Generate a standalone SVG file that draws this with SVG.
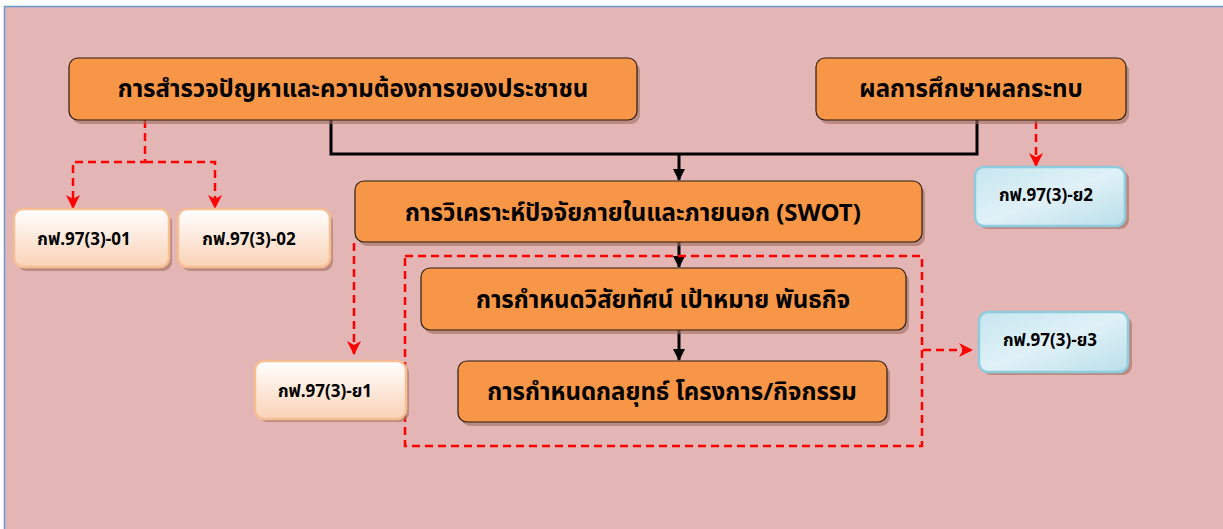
<svg xmlns="http://www.w3.org/2000/svg" width="1223" height="529" viewBox="0 0 1223 529">
<defs>
<style>
.main{fill:#F79646;stroke:#2b1d12;stroke-width:1.2}
.shadow{fill:#a07060;opacity:0.6}
.peach{fill:url(#gPeach);stroke:#F6BE92;stroke-width:2.5}
.blue{fill:url(#gBlue);stroke:#8DCBDD;stroke-width:2.5}
.t{font-family:"Noto Sans Thai","Tahoma","Noto Sans","DejaVu Sans",sans-serif;fill:#000;text-anchor:middle}
.big{font-size:24px;font-weight:bold}
.small{font-size:17px;font-weight:bold}
.blk{stroke:#000;stroke-width:3;fill:none}
.red{stroke:#FF0000;stroke-width:2.5;fill:none;stroke-dasharray:8 5}
</style>
<linearGradient id="gPeach" x1="0" y1="0" x2="0" y2="1">
<stop offset="0" stop-color="#FFFFFF"/>
<stop offset="1" stop-color="#F9D2B6"/>
</linearGradient>
<linearGradient id="gBlue" x1="0" y1="0" x2="1" y2="1">
<stop offset="0" stop-color="#C6E6F0"/>
<stop offset="0.5" stop-color="#E0F1F7"/>
<stop offset="1" stop-color="#B9DFEA"/>
</linearGradient>
<marker id="abk" viewBox="0 0 12 12" refX="11" refY="6" markerWidth="12" markerHeight="12" orient="auto" markerUnits="userSpaceOnUse">
<path d="M0,0 L12,6 L0,12 z" fill="#000"/>
</marker>
<marker id="ard" viewBox="0 0 14 14" refX="13" refY="7" markerWidth="14" markerHeight="14" orient="auto" markerUnits="userSpaceOnUse">
<path d="M0,0 L14,7 L0,14 L4,7 z" fill="#FF0000"/>
</marker>
</defs>
<rect x="0" y="0" width="1223" height="529" fill="#FFFFFF"/>
<rect x="4.5" y="6.5" width="1230" height="540" fill="#E3B5B5" stroke="#6B9AD0" stroke-width="1.5"/>

<g id="connectors">
<polyline class="blk" points="331,120 331,154 977,154 977,120"/>
<line class="blk" x1="679" y1="154" x2="679" y2="180" marker-end="url(#abk)"/>
<line class="blk" stroke-width="2" x1="679" y1="242" x2="679" y2="267" marker-end="url(#abk)"/>
<line class="blk" stroke-width="2" x1="679" y1="330" x2="679" y2="360" marker-end="url(#abk)"/>
<polyline class="red" points="145,120 145,162 73,162 73,208" marker-end="url(#ard)"/>
<polyline class="red" points="145,162 215,162 215,208" marker-end="url(#ard)"/>
<line class="red" x1="1036" y1="121" x2="1036" y2="166" marker-end="url(#ard)"/>
<line class="red" x1="354" y1="243" x2="354" y2="354" marker-end="url(#ard)"/>
<line class="red" x1="923" y1="350" x2="972" y2="350" marker-end="url(#ard)"/>
<rect class="red" x="405" y="256" width="517" height="190"/>
</g>

<g id="n1">
<rect class="shadow" x="72" y="62" width="568" height="62" rx="9"/>
<rect class="main" x="69" y="58" width="568" height="62" rx="9"/>
<text class="t big" x="353" y="97">การสำรวจปัญหาและความต้องการของประชาชน</text>
</g>
<g id="n2">
<rect class="shadow" x="819" y="62" width="310" height="62" rx="9"/>
<rect class="main" x="816" y="58" width="310" height="62" rx="9"/>
<text class="t big" x="971" y="97">ผลการศึกษาผลกระทบ</text>
</g>
<g id="n3">
<rect class="shadow" x="358" y="185" width="567" height="61" rx="9"/>
<rect class="main" x="355" y="181" width="567" height="61" rx="9"/>
<text class="t big" x="633" y="221">การวิเคราะห์ปัจจัยภายในและภายนอก (SWOT)</text>
</g>
<g id="n4">
<rect class="shadow" x="424" y="272" width="485" height="62" rx="9"/>
<rect class="main" x="421" y="268" width="485" height="62" rx="9"/>
<text class="t big" x="663" y="308">การกำหนดวิสัยทัศน์ เป้าหมาย พันธกิจ</text>
</g>
<g id="n5">
<rect class="shadow" x="461" y="365" width="429" height="61" rx="9"/>
<rect class="main" x="458" y="361" width="429" height="61" rx="9"/>
<text class="t big" x="672" y="400">การกำหนดกลยุทธ์ โครงการ/กิจกรรม</text>
</g>
<g id="n6">
<rect class="shadow" x="17" y="213" width="155" height="58" rx="9"/>
<rect class="peach" x="14" y="209" width="155" height="58" rx="9"/>
<text class="t small" x="84" y="245">กฟ.97(3)-01</text>
</g>
<g id="n7">
<rect class="shadow" x="181" y="213" width="152" height="58" rx="9"/>
<rect class="peach" x="178" y="209" width="152" height="58" rx="9"/>
<text class="t small" x="249" y="245">กฟ.97(3)-02</text>
</g>
<g id="n8">
<rect class="shadow" x="258" y="364" width="151" height="58" rx="9"/>
<rect class="peach" x="255" y="361" width="151" height="58" rx="9"/>
<text class="t small" x="325" y="397">กฟ.97(3)-ย1</text>
</g>
<g id="n9">
<rect class="shadow" x="978" y="170" width="151" height="59" rx="9"/>
<rect class="blue" x="975" y="167" width="150" height="59" rx="9"/>
<text class="t small" x="1046" y="201">กฟ.97(3)-ย2</text>
</g>
<g id="n10">
<rect class="shadow" x="982" y="316" width="150" height="59" rx="9"/>
<rect class="blue" x="979" y="312" width="149" height="60" rx="9"/>
<text class="t small" x="1050" y="346">กฟ.97(3)-ย3</text>
</g>
</svg>
